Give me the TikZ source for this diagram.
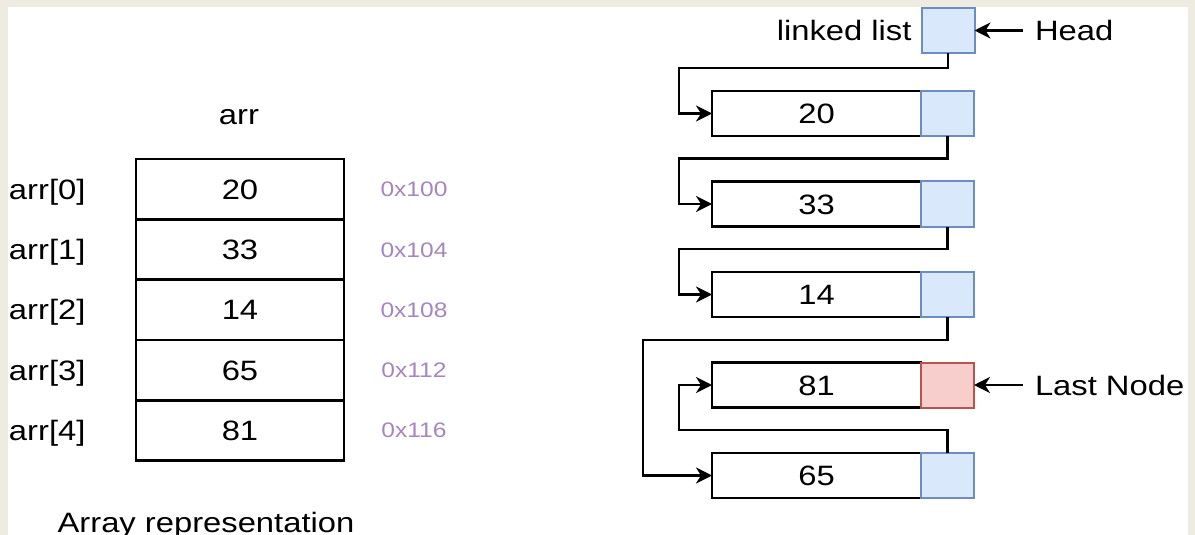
\documentclass[tikz,border=0pt]{standalone}
\usepackage{fontspec}
\setmainfont{Liberation Sans}[FakeStretch=1.17]
\usetikzlibrary{positioning,arrows.meta}
\definecolor{bgframe}{RGB}{237,235,226}
\definecolor{ptrfill}{HTML}{DAE8FC}
\definecolor{ptrline}{HTML}{6C8EBF}
\definecolor{lastfill}{HTML}{F8CECC}
\definecolor{lastline}{HTML}{B85450}
\definecolor{addrcol}{RGB}{165,135,190}

\begin{document}
\begin{tikzpicture}[x=0.5pt, y=-0.5pt]
  \tikzstyle{every node}=[font=\fontsize{14}{17}\selectfont, text height=10pt, text depth=0pt, outer sep=0pt]
  \tikzstyle{cell}=[draw, line width=1.3pt, minimum width=104pt, minimum height=30.15pt]
  \tikzstyle{addr}=[text=addrcol, font=\fontsize{10.5}{13}\selectfont, text height=7.5pt]
  \tikzstyle{data}=[draw, line width=1.2pt, minimum width=104.5pt, minimum height=22.5pt]
  \tikzstyle{ptrblue}=[draw=ptrline, fill=ptrfill, line width=1pt, minimum width=26.5pt, minimum height=22.5pt, inner sep=0pt]
  \tikzstyle{ptrred}=[ptrblue, draw=lastline, fill=lastfill]
  \tikzstyle{link}=[-{Stealth[length=8pt, width=8pt, inset=2.5pt]}, line width=1.2pt]

  \fill[bgframe] (0,0) rectangle (1195,535);
  \fill[white] (8,7) rectangle (1188,535);
  \useasboundingbox (0,0) rectangle (1195,535);

  % array
  \path (239,115) node (arr) {arr};
  \foreach \v/\ad [count=\i from 0] in {20/100, 33/104, 14/108, 65/112, 81/116}
  {
    \path (240, 189.2+60.3*\i) node[cell] (a\i) {\v};
    \path (9, 189.2+60.3*\i) node[anchor=west, inner sep=0pt] (l\i) {arr[\i]};
    \path (414, 189.2+60.3*\i) node[addr] (m\i) {0x\ad};
  }
  \path (206,522) node (cap) {Array representation};

  % linked list
  \path (948,30.5) node[ptrblue] (hd) {};
  \node[left=0pt of hd, inner xsep=5pt] (ll) {linked list};
  \path (1023,30.5) node[anchor=west, inner xsep=6pt] (hl) {Head};
  \foreach \v/\col [count=\i from 0] in {20/blue, 33/blue, 14/blue, 81/red, 65/blue}
  {
    \path (816.5, 113.5+90.5*\i) node[data] (d\i) {\v};
    \node[ptr\col, right=0pt of d\i] (p\i) {};
  }
  \path (1023,385) node[anchor=west, inner xsep=6pt] (nl) {Last Node};

  \draw[link] (hl.west) -- (hd.east);
  \draw[link] (nl.west) -- (p3.east);
  \draw[link] (hd.south) -- ++(0,15) -| ([xshift=-16.5pt]d0.west) -- (d0.west);
  \foreach \i/\j in {0/1, 1/2}
    \draw[link] (p\i.south) -- ++(0,22.5) -| ([xshift=-16.5pt]d\j.west) -- (d\j.west);
  \draw[link] (p2.south) -- ++(0,23) -| ([xshift=-34.5pt]d4.west) -- (d4.west);
  \draw[link] (p4.north) -- ++(0,-23) -| ([xshift=-16.5pt]d3.west) -- (d3.west);
\end{tikzpicture}
\end{document}
